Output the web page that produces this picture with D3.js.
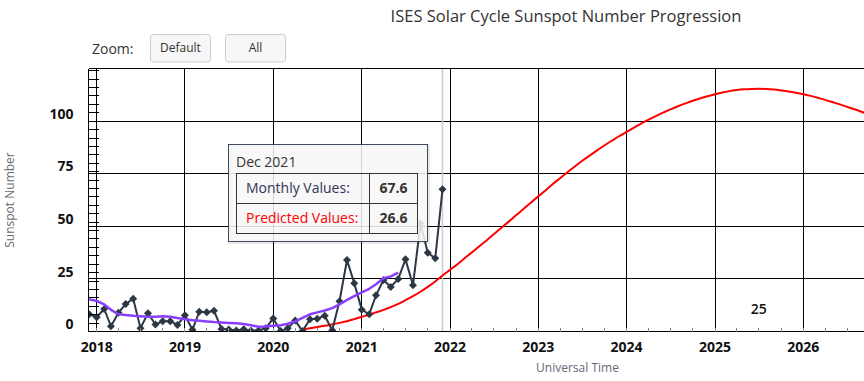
<!DOCTYPE html>
<html><head><meta charset="utf-8">
<script src="https://cdn.jsdelivr.net/npm/d3@7"></script>
<style>
html,body{margin:0;padding:0;background:#fff;overflow:hidden}
svg{display:block;font-family:"Open Sans",sans-serif}
</style></head><body>
<svg id="chart" width="864" height="381"></svg>
<script>
// ---------- data ----------
const chartTitle = "ISES Solar Cycle Sunspot Number Progression";
const xAxisTitle = "Universal Time";
const yAxisTitle = "Sunspot Number";
const yTickValues = [0, 25, 50, 75, 100];
const xTickYears = [2018, 2019, 2020, 2021, 2022, 2023, 2024, 2025, 2026];
const zoomButtons = ["Default", "All"];

const monthlyStart = "2017-12";
const monthlyValues = [
  8.2,
  6.8, 10.7, 2.5, 8.9, 13.1, 15.6, 1.6, 8.7, 3.3, 4.9, 4.9, 3.1,
  7.7, 0.8, 9.4, 9.1, 9.9, 1.2, 0.9, 0.5, 1.1, 0.4, 0.5, 1.5,
  6.2, 0.2, 1.5, 5.2, 0.2, 5.8, 6.1, 7.5, 0.6, 14.4, 34.0, 23.0,
  10.4, 8.2, 17.2, 24.5, 21.2, 25.0, 34.3, 22.0, 51.3, 37.4, 34.8, 67.6
];

const smoothedStart = "2017-12";
const smoothedValues = [
  15.3,
  14.5, 12.9, 10.3, 8.2, 7.8, 7.5, 7.3, 7.0, 7.0, 7.2, 7.0, 6.4,
  5.8, 5.4, 5.1, 4.8, 4.5, 4.3, 4.1, 3.9, 3.6, 3.0, 2.3, 2.4,
  2.7, 3.0, 3.7, 4.8, 6.5, 8.2, 9.1, 10.0, 11.1, 12.9, 15.0, 16.8,
  18.6, 20.3, 22.5, 25.3, 26.2, 28.0
];

const predictedStart = "2020-05";
const predictedValues = [
  1.0, 1.5, 2.1, 2.7, 3.4, 4.1, 4.9, 5.9,
  7.0, 8.0, 9.1, 10.3, 11.6, 13.1, 14.9, 16.8, 18.9, 21.2, 23.8, 26.6,
  29.3, 32.0, 34.75, 37.55, 40.4, 43.3, 46.25, 49.25, 52.25, 55.25, 58.25, 61.25,
  64.25, 67.15, 70.05, 72.9, 75.7, 78.45, 81.1, 83.65, 86.1, 88.45, 90.7, 92.85,
  94.9, 96.9, 98.85, 100.7, 102.45, 104.1, 105.65, 107.1, 108.45, 109.7, 110.85, 111.9,
  112.85, 113.65, 114.3, 114.8, 115.15, 115.35, 115.4, 115.3, 115.05, 114.65, 114.15, 113.55,
  112.85, 112.05, 111.15, 110.15, 109.1, 108.0, 106.85, 105.65, 104.4, 103.1
];

const tooltipMonth = "2021-12";
const tooltipTitle = "Dec 2021";
const tooltipLabels = ["Monthly Values:", "Predicted Values:"];
const tooltipValues = ["67.6", "26.6"];

const cycleLabel = "25";
const cycleLabelMonth = "2025-07";
const cycleLabelValue = 10.7;

// ---------- helpers ----------
const parseMonth = d3.utcParse("%Y-%m");
function series(start, values) {
  const s = parseMonth(start);
  return values.map((v, i) => ({ date: d3.utcMonth.offset(s, i), value: v }));
}
const monthly = series(monthlyStart, monthlyValues);
const smoothed = series(smoothedStart, smoothedValues);
const predicted = series(predictedStart, predictedValues);

// ---------- layout ----------
const plotLeft = 88.5, plotTop = 68.5, plotRight = 880;
const svg = d3.select("#chart");

const x = d3.scaleUtc()
  .domain([new Date(Date.UTC(2018, 0, 1)), new Date(Date.UTC(2026, 0, 1))])
  .range([96.7, 803.3]);
const y = d3.scaleLinear().domain([0, 100]).range([331.5, 121.2]);
const plotBottom = y(0);

svg.append("defs").append("clipPath").attr("id", "plotclip")
  .append("rect").attr("x", plotLeft).attr("y", plotTop)
  .attr("width", plotRight - plotLeft).attr("height", plotBottom - plotTop);

// title
svg.append("text").attr("x", 566).attr("y", 22).attr("text-anchor", "middle")
  .attr("font-size", 16.5).attr("fill", "#333").text(chartTitle);

// zoom label + buttons
svg.append("text").attr("x", 92).attr("y", 54).attr("font-size", 14)
  .attr("fill", "#333").text("Zoom:");
const btnX = [150.5, 225.5];
zoomButtons.forEach((b, i) => {
  svg.append("rect").attr("x", btnX[i]).attr("y", 34.5).attr("width", 60).attr("height", 27.5)
    .attr("rx", 3).attr("fill", "#f7f7f7").attr("stroke", "#cccccc");
  svg.append("text").attr("x", btnX[i] + 30).attr("y", 51.5).attr("text-anchor", "middle")
    .attr("font-size", 12).attr("fill", "#333").text(b);
});

// grid
const grid = svg.append("g").attr("shape-rendering", "crispEdges");
grid.selectAll("line.hx").data(yTickValues.filter(d => d > 0)).join("line")
  .attr("x1", plotLeft).attr("x2", plotRight)
  .attr("y1", d => y(d)).attr("y2", d => y(d))
  .attr("stroke", "#000").attr("stroke-width", 1);
grid.selectAll("line.vx").data(xTickYears).join("line")
  .attr("x1", d => x(new Date(Date.UTC(d, 0, 1)))).attr("x2", d => x(new Date(Date.UTC(d, 0, 1))))
  .attr("y1", plotTop).attr("y2", plotBottom)
  .attr("stroke", "#000").attr("stroke-width", 1);

// crosshair
const tipDate = parseMonth(tooltipMonth);
svg.append("line").attr("x1", x(tipDate)).attr("x2", x(tipDate))
  .attr("y1", plotTop).attr("y2", plotBottom)
  .attr("stroke", "#cccccc").attr("stroke-width", 1.5);

const plot = svg.append("g").attr("clip-path", "url(#plotclip)");

// predicted line
plot.append("path").datum(predicted)
  .attr("d", d3.line().x(d => x(d.date)).y(d => y(d.value)).curve(d3.curveMonotoneX))
  .attr("fill", "none").attr("stroke", "#ff0000").attr("stroke-width", 2);

// monthly line + markers
plot.append("path").datum(monthly)
  .attr("d", d3.line().x(d => x(d.date)).y(d => y(d.value)))
  .attr("fill", "none").attr("stroke", "#2b3745").attr("stroke-width", 2)
  .attr("stroke-linejoin", "round");
const r = 4;
plot.selectAll("path.mk").data(monthly).join("path")
  .attr("transform", d => `translate(${x(d.date)},${y(d.value)})`)
  .attr("d", `M0,${-r}L${r},0L0,${r}L${-r},0Z`)
  .attr("fill", "#2b3745");

// smoothed line
plot.append("path").datum(smoothed)
  .attr("d", d3.line().x(d => x(d.date)).y(d => y(d.value)))
  .attr("fill", "none").attr("stroke", "#8a3ffc").attr("stroke-width", 2.5)
  .attr("stroke-linejoin", "round");

// axes lines
const ax = svg.append("g").attr("shape-rendering", "crispEdges");
ax.append("line").attr("x1", plotLeft).attr("x2", plotRight).attr("y1", plotTop).attr("y2", plotTop)
  .attr("stroke", "#000");
ax.append("line").attr("x1", plotLeft).attr("x2", plotLeft).attr("y1", plotTop).attr("y2", plotBottom)
  .attr("stroke", "#000");
ax.append("line").attr("x1", plotLeft).attr("x2", plotRight).attr("y1", plotBottom).attr("y2", plotBottom)
  .attr("stroke", "#000");

// y minor ticks
const yMinor = d3.range(0, 126, 4);
ax.selectAll("line.ym").data(yMinor).join("line")
  .attr("x1", plotLeft).attr("x2", plotLeft + 10)
  .attr("y1", d => y(d)).attr("y2", d => y(d)).attr("stroke", "#000");

// x minor ticks (quarterly)
const xMinor = d3.utcMonth.every(3).range(new Date(Date.UTC(2017, 9, 1)), new Date(Date.UTC(2026, 11, 1)))
  .filter(d => x(d) > plotLeft);
ax.selectAll("line.xm").data(xMinor).join("line")
  .attr("x1", d => x(d)).attr("x2", d => x(d))
  .attr("y1", plotBottom).attr("y2", plotBottom - 4).attr("stroke", "#888");

// y tick labels
svg.selectAll("text.yl").data(yTickValues).join("text")
  .attr("x", 73.5).attr("y", d => y(d) - 2.3).attr("text-anchor", "end")
  .attr("font-size", 14).attr("font-weight", "bold").attr("fill", "#111").text(d => d);

// x tick labels
svg.selectAll("text.xl").data(xTickYears).join("text")
  .attr("x", d => x(new Date(Date.UTC(d, 0, 1)))).attr("y", 351.5).attr("text-anchor", "middle")
  .attr("font-size", 14).attr("font-weight", "bold").attr("fill", "#111").text(d => d);

// axis titles
svg.append("text").attr("x", 577.5).attr("y", 372).attr("text-anchor", "middle")
  .attr("font-size", 12).attr("fill", "#666677").text(xAxisTitle);
svg.append("text").attr("transform", "translate(14,200) rotate(-90)").attr("text-anchor", "middle")
  .attr("font-size", 12).attr("fill", "#6a6a6a").text(yAxisTitle);

// cycle label
svg.append("text").attr("x", x(parseMonth(cycleLabelMonth))).attr("y", y(cycleLabelValue))
  .attr("dy", "0.35em").attr("text-anchor", "middle")
  .attr("font-size", 14).attr("font-weight", 600).attr("fill", "#111").text(cycleLabel);

// tooltip
const tip = svg.append("g");
tip.append("rect").attr("x", 229.5).attr("y", 145.5).attr("width", 199).attr("height", 97)
  .attr("fill", "none").attr("stroke", "rgba(0,0,0,0.08)").attr("stroke-width", 3);
tip.append("rect").attr("x", 228.5).attr("y", 144.5).attr("width", 199).attr("height", 97)
  .attr("fill", "rgba(247,247,247,0.86)").attr("stroke", "#3d4a5c").attr("stroke-width", 1);
tip.append("text").attr("x", 236).attr("y", 166.5).attr("font-size", 14).attr("fill", "#333")
  .text(tooltipTitle);
const tg = tip.append("g").attr("shape-rendering", "crispEdges");
tg.append("rect").attr("x", 236.5).attr("y", 173.5).attr("width", 181).attr("height", 60)
  .attr("fill", "none").attr("stroke", "#333");
tg.append("line").attr("x1", 236.5).attr("x2", 417.5).attr("y1", 203.5).attr("y2", 203.5).attr("stroke", "#333");
tg.append("line").attr("x1", 369.5).attr("x2", 369.5).attr("y1", 173.5).attr("y2", 233.5).attr("stroke", "#333");
const rowBase = [193.3, 222.7];
const labelColors = ["#333355", "#ff0000"];
tooltipLabels.forEach((l, i) => {
  tip.append("text").attr("x", 246).attr("y", rowBase[i]).attr("font-size", 14)
    .attr("fill", labelColors[i]).text(l);
  tip.append("text").attr("x", 393.5).attr("y", rowBase[i]).attr("text-anchor", "middle")
    .attr("font-size", 14).attr("font-weight", "bold").attr("fill", "#333").text(tooltipValues[i]);
});
</script>
</body></html>
